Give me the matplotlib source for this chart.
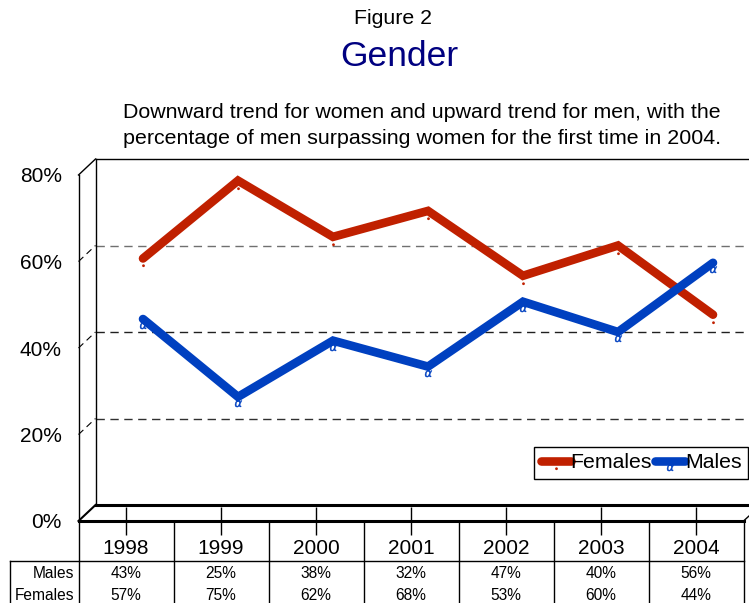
import matplotlib
matplotlib.use("Agg")
import matplotlib.pyplot as plt
from matplotlib.lines import Line2D
from matplotlib.markers import MarkerStyle
from matplotlib.transforms import Affine2D, blended_transform_factory

plt.rcParams['font.family'] = ['Liberation Sans', 'DejaVu Sans']

years = ['1998', '1999', '2000', '2001', '2002', '2003', '2004']
males = [43, 25, 38, 32, 47, 40, 56]
females = [57, 75, 62, 68, 53, 60, 44]
male_labels = ['43%', '25%', '38%', '32%', '47%', '40%', '56%']
female_labels = ['57%', '75%', '62%', '68%', '53%', '60%', '44%']
yticks = [0, 20, 40, 60, 80]
ytick_labels = ['0%', '20%', '40%', '60%', '80%']

RED = '#c02000'
BLUE = '#0040c0'

W, H = 749, 603
fig = plt.figure(figsize=(W / 100, H / 100), dpi=100)


def px_rect(left, right, top, bottom):
    return [left / W, 1 - bottom / H, (right - left) / W, (bottom - top) / H]


# back wall axes (data plotted here)
ax = fig.add_axes(px_rect(95.5, 760.5, 159, 505))
# front axes (tick labels, front frame, table)
axf = fig.add_axes(px_rect(78.5, 743.5, 175, 521), facecolor='none')

n = len(years)
for a in (ax, axf):
    a.set_xlim(-0.5, n - 0.5)
    a.set_ylim(0, 80)

# back wall styling
ax.set_xticks([])
ax.set_yticks([])
ax.spines['right'].set_visible(False)
ax.spines['left'].set_linewidth(1.0)
ax.spines['top'].set_linewidth(1.0)
ax.spines['bottom'].set_linewidth(2.2)
for v, c in zip([20, 40, 60], ['#303030', '#202020', '#707070']):
    ax.axhline(v, color=c, lw=1.0, ls=(0, (6, 4)), zorder=1)

fem_marker = MarkerStyle('o', transform=Affine2D().translate(0, -2.6))
male_marker = MarkerStyle(r'$\alpha$', transform=Affine2D().translate(0, -0.9))
x = list(range(n))
ax.plot(x, females, color=RED, lw=6.2, solid_capstyle='round', solid_joinstyle='miter',
        marker=fem_marker, markersize=2.0, markeredgewidth=0, label='Females', zorder=3)
ax.plot(x, males, color=BLUE, lw=6.2, solid_capstyle='round', solid_joinstyle='miter',
        marker=male_marker, markersize=5, markeredgewidth=0.3, label='Males', zorder=3)

# front axes styling
for s in ['top', 'right']:
    axf.spines[s].set_visible(False)
axf.spines['left'].set_linewidth(1.0)
axf.spines['bottom'].set_linewidth(2.2)
axf.set_yticks(yticks)
axf.set_yticklabels(ytick_labels, fontsize=15)
axf.tick_params(axis='y', length=0, pad=12)
axf.set_xticks(x)
axf.set_xticklabels([])
axf.tick_params(axis='x', direction='inout', length=20, width=1.0)

# 3D frame connectors (figure pixel coords)
def fline(p0, p1, **kw):
    fig.add_artist(Line2D([p0[0] / W, p1[0] / W], [1 - p0[1] / H, 1 - p1[1] / H],
                          transform=fig.transFigure, color='black', **kw))

fline((78.5, 175), (95.5, 159), lw=1.0)
fline((78.5, 521), (95.5, 505), lw=1.5)
fline((743.5, 521), (749, 516), lw=1.0)
for v in [20, 40, 60]:
    yf = 521 - v * 346 / 80
    yb = 505 - v * 346 / 80
    fline((78.5, yf), (95.5, yb), lw=0.8, ls=(0, (6, 4)))

# data table
tb = blended_transform_factory(axf.transData, fig.transFigure)
def fy(p):
    return 1 - p / H

y_top, y_hdr, y_m, y_bot = 521, 561, 583, 603
for i in range(n + 1):
    axf.add_line(Line2D([i - 0.5, i - 0.5], [fy(y_top), fy(y_bot)], transform=tb,
                        color='black', lw=1.0, clip_on=False))
fig.add_artist(Line2D([10 / W, 743.5 / W], [fy(y_hdr), fy(y_hdr)],
                      transform=fig.transFigure, color='black', lw=1.0))
fig.add_artist(Line2D([10 / W, 10 / W], [fy(y_hdr), fy(y_bot)],
                      transform=fig.transFigure, color='black', lw=1.0))
for i, yr in enumerate(years):
    axf.text(i, fy(549), yr, transform=tb, ha='center', va='center', fontsize=15)
    axf.text(i, fy(573), male_labels[i], transform=tb, ha='center', va='center', fontsize=11.2)
    axf.text(i, fy(595), female_labels[i], transform=tb, ha='center', va='center', fontsize=11.2)
fig.text(74 / W, fy(573), 'Males', ha='right', va='center', fontsize=11.2)
fig.text(74 / W, fy(595), 'Females', ha='right', va='center', fontsize=11.2)

# titles
fig.text(393 / W, fy(18), 'Figure 2', ha='center', va='center', fontsize=15.3)
fig.text(399 / W, fy(57), 'Gender', ha='center', va='center', fontsize=25.5, color='#000080')
fig.text(422 / W, fy(113), 'Downward trend for women and upward trend for men, with the',
         ha='center', va='center', fontsize=15.4)
fig.text(422 / W, fy(139), 'percentage of men surpassing women for the first time in 2004.',
         ha='center', va='center', fontsize=15.4)

# legend
fig.legend(loc='upper right', bbox_to_anchor=(748 / W, fy(447)), ncol=2, fontsize=15.3,
           frameon=True, fancybox=False, edgecolor='black', framealpha=1,
           borderpad=0.3, borderaxespad=0, handlelength=1.4, handletextpad=0.0,
           columnspacing=0.15).get_frame().set_linewidth(1.0)

fig.savefig('out.png', dpi=100)
